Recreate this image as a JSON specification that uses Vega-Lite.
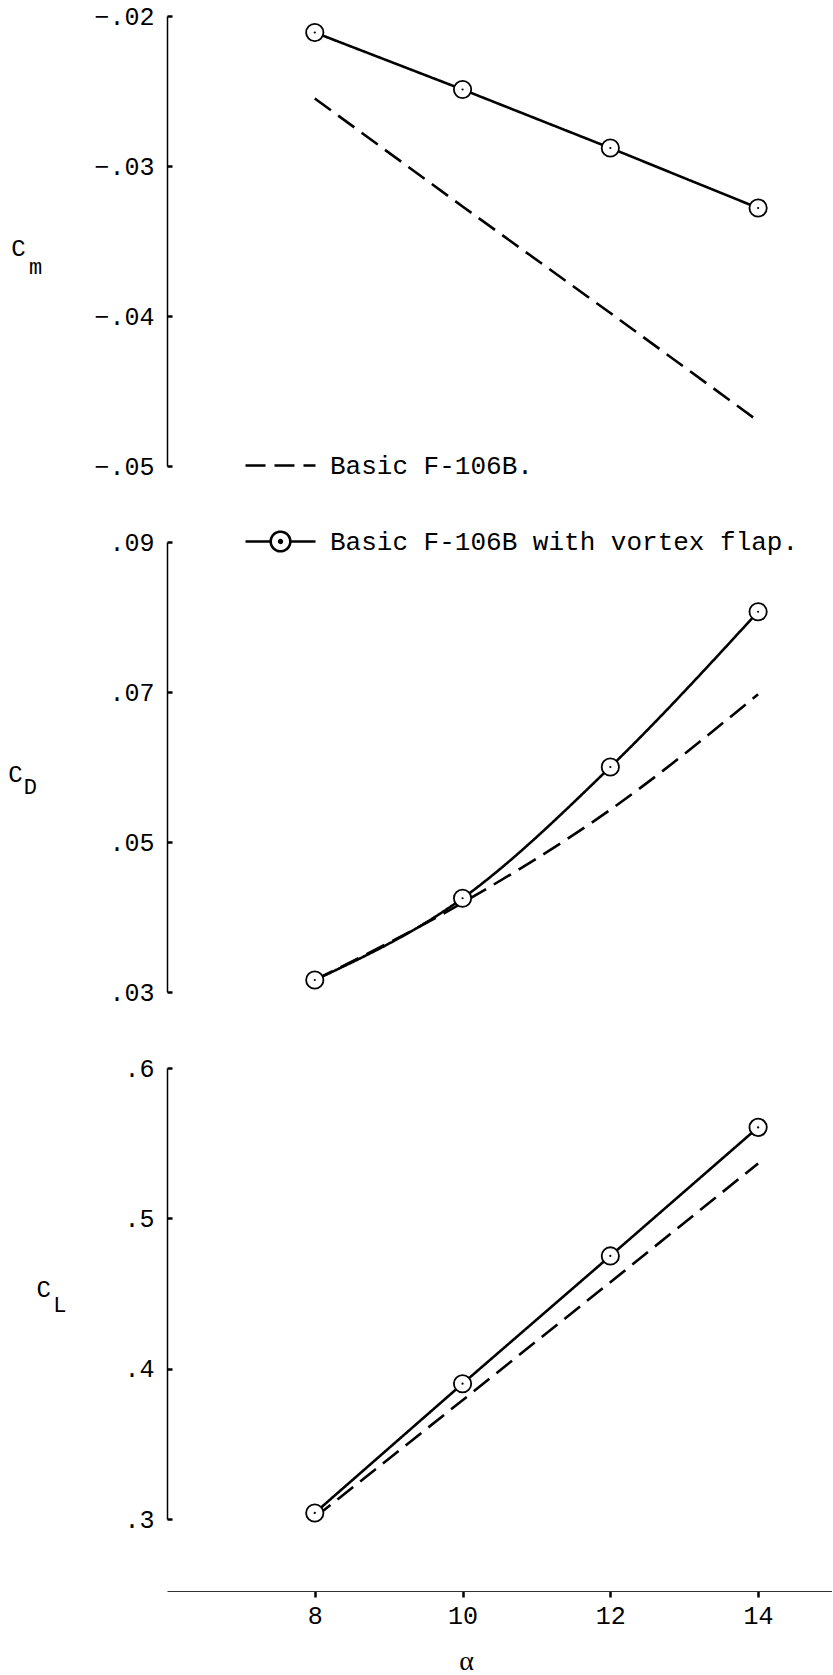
{
  "$schema": "https://vega.github.io/schema/vega-lite/v6.json",
  "background": "white",
  "padding": {"left": 8, "top": 4, "right": 0, "bottom": 0},
  "spacing": 76,
  "bounds": "flush",
  "datasets": {
    "d": [
      {"coef": "Cm", "series": "Basic F-106B.", "alpha": 8, "value": -0.0255},
      {"coef": "Cm", "series": "Basic F-106B.", "alpha": 10, "value": -0.0327},
      {"coef": "Cm", "series": "Basic F-106B.", "alpha": 12, "value": -0.0398},
      {"coef": "Cm", "series": "Basic F-106B.", "alpha": 14, "value": -0.0470},
      {"coef": "Cm", "series": "Basic F-106B with vortex flap.", "alpha": 8, "value": -0.0211},
      {"coef": "Cm", "series": "Basic F-106B with vortex flap.", "alpha": 10, "value": -0.0249},
      {"coef": "Cm", "series": "Basic F-106B with vortex flap.", "alpha": 12, "value": -0.0288},
      {"coef": "Cm", "series": "Basic F-106B with vortex flap.", "alpha": 14, "value": -0.0328},
      {"coef": "CD", "series": "Basic F-106B.", "alpha": 8, "value": 0.0316},
      {"coef": "CD", "series": "Basic F-106B.", "alpha": 10, "value": 0.0419},
      {"coef": "CD", "series": "Basic F-106B.", "alpha": 12, "value": 0.0543},
      {"coef": "CD", "series": "Basic F-106B.", "alpha": 14, "value": 0.0697},
      {"coef": "CD", "series": "Basic F-106B with vortex flap.", "alpha": 8, "value": 0.0316},
      {"coef": "CD", "series": "Basic F-106B with vortex flap.", "alpha": 10, "value": 0.0425},
      {"coef": "CD", "series": "Basic F-106B with vortex flap.", "alpha": 12, "value": 0.0600},
      {"coef": "CD", "series": "Basic F-106B with vortex flap.", "alpha": 14, "value": 0.0807},
      {"coef": "CL", "series": "Basic F-106B.", "alpha": 8, "value": 0.301},
      {"coef": "CL", "series": "Basic F-106B.", "alpha": 10, "value": 0.379},
      {"coef": "CL", "series": "Basic F-106B.", "alpha": 12, "value": 0.4575},
      {"coef": "CL", "series": "Basic F-106B.", "alpha": 14, "value": 0.5365},
      {"coef": "CL", "series": "Basic F-106B with vortex flap.", "alpha": 8, "value": 0.304},
      {"coef": "CL", "series": "Basic F-106B with vortex flap.", "alpha": 10, "value": 0.390},
      {"coef": "CL", "series": "Basic F-106B with vortex flap.", "alpha": 12, "value": 0.475},
      {"coef": "CL", "series": "Basic F-106B with vortex flap.", "alpha": 14, "value": 0.5605}
    ]
  },
  "config": {
    "view": {"stroke": null},
    "axis": {
      "grid": false,
      "domainColor": "black",
      "domainWidth": 1.5,
      "tickColor": "black",
      "tickWidth": 2.5,
      "labelFont": "Liberation Mono",
      "labelFontSize": 25,
      "labelColor": "black",
      "titleFont": "Liberation Serif",
      "titleColor": "black"
    },
    "axisY": {"tickSize": -5, "labelPadding": 18, "title": null}
  },
  "resolve": {"scale": {"strokeDash": "shared"}, "legend": {"strokeDash": "shared"}},
  "vconcat": [
    {
      "width": 665,
      "height": 450,
      "data": {"name": "d"},
      "transform": [{"filter": "datum.coef === 'Cm'"}],
      "layer": [
        {
          "mark": {"type": "line", "strokeWidth": 2.6, "color": "black"},
          "encoding": {
            "x": {"field": "alpha", "type": "quantitative", "scale": {"domain": [6, 14.85]}, "axis": null},
            "y": {"field": "value", "type": "quantitative", "scale": {"domain": [-0.05, -0.02]},
                  "axis": {"values": [-0.05, -0.04, -0.03, -0.02], "labelExpr": "replace(format(datum.value, '.2f'), '0.', '.')"}},
            "strokeDash": {
              "field": "series", "type": "nominal",
              "scale": {"domain": ["Basic F-106B.", "Basic F-106B with vortex flap."], "range": [[20, 9], [1, 0]]},
              "legend": {
                "orient": "none", "legendX": 77, "legendY": 413, "title": null,
                "symbolType": "stroke", "symbolSize": 4900, "symbolStrokeWidth": 2.6, "symbolStrokeColor": "black",
                "symbolOpacity": 1,
                "labelFont": "Liberation Mono", "labelFontSize": 26, "labelColor": "black", "labelOffset": 13,
                "rowPadding": 26, "labelLimit": 0,
                "encode": {"symbols": {"update": {
                  "shape": {"signal": "datum.value === 'Basic F-106B.' ? 'stroke' : 'M-1,0H-0.28M0.28,0H1M0.28,0A0.28,0.28 0 1,1 -0.28,0A0.28,0.28 0 1,1 0.28,0ZM0.04,0A0.04,0.04 0 1,1 -0.04,0A0.04,0.04 0 1,1 0.04,0Z'"},
                  "fill": {"value": "white"},
                  "stroke": {"value": "black"},
                  "strokeWidth": {"value": 2.6},
                  "opacity": {"value": 1}
                }}}
              }
            }
          }
        },
        {
          "transform": [{"filter": "datum.series === 'Basic F-106B with vortex flap.'"}],
          "mark": {"type": "point", "shape": "circle", "filled": true, "fill": "white", "stroke": "black", "strokeWidth": 1.8, "size": 300, "opacity": 1},
          "encoding": {"x": {"field": "alpha", "type": "quantitative"}, "y": {"field": "value", "type": "quantitative"}}
        },
        {
          "transform": [{"filter": "datum.series === 'Basic F-106B with vortex flap.'"}],
          "mark": {"type": "point", "shape": "circle", "filled": true, "color": "black", "size": 5, "opacity": 1},
          "encoding": {"x": {"field": "alpha", "type": "quantitative"}, "y": {"field": "value", "type": "quantitative"}}
        },
        {
          "data": {"values": [{}]},
          "mark": {"type": "text", "font": "Liberation Mono", "fontSize": 24, "color": "black"},
          "encoding": {"x": {"datum": 3.99}, "y": {"datum": -0.0355}, "text": {"value": "C"}}
        },
        {
          "data": {"values": [{}]},
          "mark": {"type": "text", "font": "Liberation Mono", "fontSize": 22, "color": "black"},
          "encoding": {"x": {"datum": 4.22}, "y": {"datum": -0.0367}, "text": {"value": "m"}}
        }
      ]
    },
    {
      "width": 665,
      "height": 450,
      "data": {"name": "d"},
      "transform": [{"filter": "datum.coef === 'CD'"}],
      "layer": [
        {
          "mark": {"type": "line", "strokeWidth": 2.6, "color": "black", "interpolate": "monotone"},
          "encoding": {
            "x": {"field": "alpha", "type": "quantitative", "scale": {"domain": [6, 14.85]}, "axis": null},
            "y": {"field": "value", "type": "quantitative", "scale": {"domain": [0.03, 0.09]},
                  "axis": {"values": [0.03, 0.05, 0.07, 0.09], "labelExpr": "replace(format(datum.value, '.2f'), '0.', '.')"}},
            "strokeDash": {"field": "series", "type": "nominal"}
          }
        },
        {
          "transform": [{"filter": "datum.series === 'Basic F-106B with vortex flap.'"}],
          "mark": {"type": "point", "shape": "circle", "filled": true, "fill": "white", "stroke": "black", "strokeWidth": 1.8, "size": 300, "opacity": 1},
          "encoding": {"x": {"field": "alpha", "type": "quantitative"}, "y": {"field": "value", "type": "quantitative"}}
        },
        {
          "transform": [{"filter": "datum.series === 'Basic F-106B with vortex flap.'"}],
          "mark": {"type": "point", "shape": "circle", "filled": true, "color": "black", "size": 5, "opacity": 1},
          "encoding": {"x": {"field": "alpha", "type": "quantitative"}, "y": {"field": "value", "type": "quantitative"}}
        },
        {
          "data": {"values": [{}]},
          "mark": {"type": "text", "font": "Liberation Mono", "fontSize": 24, "color": "black"},
          "encoding": {"x": {"datum": 3.95}, "y": {"datum": 0.0589}, "text": {"value": "C"}}
        },
        {
          "data": {"values": [{}]},
          "mark": {"type": "text", "font": "Liberation Mono", "fontSize": 22, "color": "black"},
          "encoding": {"x": {"datum": 4.15}, "y": {"datum": 0.0573}, "text": {"value": "D"}}
        }
      ]
    },
    {
      "width": 665,
      "height": 451,
      "data": {"name": "d"},
      "transform": [{"filter": "datum.coef === 'CL'"}],
      "layer": [
        {
          "mark": {"type": "line", "strokeWidth": 2.6, "color": "black"},
          "encoding": {
            "x": {"field": "alpha", "type": "quantitative", "scale": {"domain": [6, 14.85]},
                  "axis": {"values": [8, 10, 12, 14], "format": "d", "offset": 72, "tickSize": 6, "labelPadding": 18,
                           "labelBaseline": "middle", "domainWidth": 1, "domainColor": "#333",
                           "title": "α", "titleFontSize": 28, "titleFontWeight": "normal", "titleX": 299, "titleY": 70,
                           "titleBaseline": "middle", "titleAlign": "center"}},
            "y": {"field": "value", "type": "quantitative", "scale": {"domain": [0.3, 0.6]},
                  "axis": {"values": [0.3, 0.4, 0.5, 0.6], "labelExpr": "replace(format(datum.value, '.1f'), '0.', '.')"}},
            "strokeDash": {"field": "series", "type": "nominal"}
          }
        },
        {
          "transform": [{"filter": "datum.series === 'Basic F-106B with vortex flap.'"}],
          "mark": {"type": "point", "shape": "circle", "filled": true, "fill": "white", "stroke": "black", "strokeWidth": 1.8, "size": 300, "opacity": 1},
          "encoding": {"x": {"field": "alpha", "type": "quantitative"}, "y": {"field": "value", "type": "quantitative"}}
        },
        {
          "transform": [{"filter": "datum.series === 'Basic F-106B with vortex flap.'"}],
          "mark": {"type": "point", "shape": "circle", "filled": true, "color": "black", "size": 5, "opacity": 1},
          "encoding": {"x": {"field": "alpha", "type": "quantitative"}, "y": {"field": "value", "type": "quantitative"}}
        },
        {
          "data": {"values": [{}]},
          "mark": {"type": "text", "font": "Liberation Mono", "fontSize": 24, "color": "black"},
          "encoding": {"x": {"datum": 4.33}, "y": {"datum": 0.4522}, "text": {"value": "C"}}
        },
        {
          "data": {"values": [{}]},
          "mark": {"type": "text", "font": "Liberation Mono", "fontSize": 22, "color": "black"},
          "encoding": {"x": {"datum": 4.55}, "y": {"datum": 0.4422}, "text": {"value": "L"}}
        }
      ]
    }
  ]
}
